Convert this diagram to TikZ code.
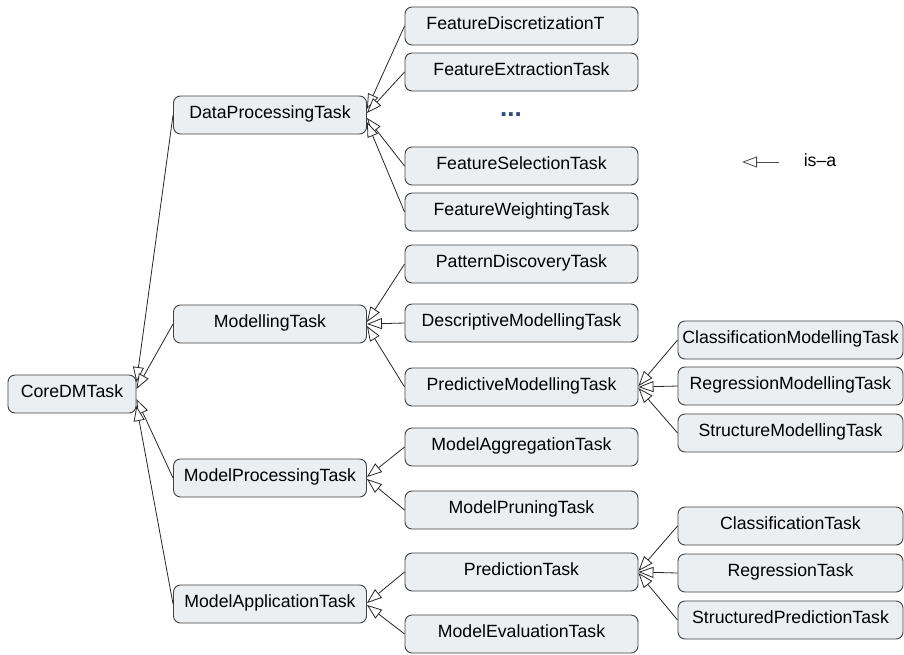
\documentclass[tikz,border=0pt]{standalone}
\usepackage{fontspec}
\setmainfont{Liberation Sans}
\usetikzlibrary{arrows.meta}
\definecolor{boxfill}{RGB}{236,239,242}
\definecolor{dotblue}{RGB}{46,74,122}
\tikzset{
  box/.style={draw=black!75, fill=boxfill, line width=0.9pt, rounded corners=7pt,
    minimum height=38pt, inner sep=0pt, text height=0.716em, text depth=0pt,
    font=\fontsize{17.7}{20}\selectfont},
  corebox/.style={box, minimum width=128pt},
  midbox/.style={box, minimum width=193pt},
  rightbox/.style={box, minimum width=233pt},
  thirdbox/.style={box, minimum width=225pt},
  isa/.style={draw=black!85, line width=0.8pt,
    -{Triangle[open, fill=white, length=15pt, width=11pt]}},
}
\begin{document}
\begin{tikzpicture}[x=1pt, y=-1pt]
\useasboundingbox (0,0) rectangle (904,654);
% core
\node[corebox] (core) at (72,394) {CoreDMTask};
% middle column
\node[midbox] (dp) at (270,115) {DataProcessingTask};
\node[midbox] (mt) at (270,324) {ModellingTask};
\node[midbox] (mp) at (270,478) {ModelProcessingTask};
\node[midbox] (ma) at (270,604) {ModelApplicationTask};
% right column
\node[rightbox] (fd) at (521.5,26) {\hspace*{-12pt}FeatureDiscretizationT};
\node[rightbox] (fe) at (521.5,72) {FeatureExtractionTask};
\node[font=\fontsize{26}{28}\selectfont\bfseries, text=dotblue, inner sep=0pt, anchor=base] (dots) at (511,116) {...};
\node[rightbox] (fs) at (521.5,166) {FeatureSelectionTask};
\node[rightbox] (fw) at (521.5,212) {FeatureWeightingTask};
\node[rightbox] (pd) at (521.5,264) {PatternDiscoveryTask};
\node[rightbox] (dm) at (521.5,323) {DescriptiveModellingTask};
\node[rightbox] (pm) at (521.5,387) {PredictiveModellingTask};
\node[rightbox] (mag) at (521.5,447) {ModelAggregationTask};
\node[rightbox] (mpr) at (521.5,510) {ModelPruningTask};
\node[rightbox] (pt) at (521.5,572) {PredictionTask};
\node[rightbox] (me) at (521.5,634) {ModelEvaluationTask};
% third column
\node[thirdbox] (cm) at (790.5,340) {ClassificationModellingTask};
\node[thirdbox] (rm) at (790.5,386) {RegressionModellingTask};
\node[thirdbox] (sm) at (790.5,433) {StructureModellingTask};
\node[thirdbox] (ct) at (790.5,526) {ClassificationTask};
\node[thirdbox] (rt) at (790.5,573) {RegressionTask};
\node[thirdbox] (sp) at (790.5,620) {StructuredPredictionTask};
% legend
\coordinate (lgA) at (779,162);
\coordinate (lgB) at (742,162);
\node[font=\fontsize{17.7}{20}\selectfont, text height=0.716em, text depth=0pt, inner sep=0pt] (lgT) at (820,163) {is–a};
% connectors to core
\draw[isa] (dp.west) -- ([yshift=12pt]core.east);
\draw[isa] (mt.west) -- ([yshift=5pt]core.east);
\draw[isa] (mp.west) -- ([yshift=-5pt]core.east);
\draw[isa] (ma.west) -- ([yshift=-12pt]core.east);
% data processing
\draw[isa] (fd.west) -- ([yshift=6pt]dp.east);
\draw[isa] (fe.west) -- ([yshift=2pt]dp.east);
\draw[isa] (fs.west) -- ([yshift=-3pt]dp.east);
\draw[isa] (fw.west) -- ([yshift=-7pt]dp.east);
% modelling
\draw[isa] (pd.west) -- ([yshift=2pt]mt.east);
\draw[isa] (dm.west) -- (mt.east);
\draw[isa] (pm.west) -- ([yshift=-2pt]mt.east);
% model processing
\draw[isa] (mag.west) -- ([yshift=1pt]mp.east);
\draw[isa] (mpr.west) -- ([yshift=-1pt]mp.east);
% model application
\draw[isa] (pt.west) -- ([yshift=1pt]ma.east);
\draw[isa] (me.west) -- ([yshift=-1pt]ma.east);
% predictive modelling
\draw[isa] (cm.west) -- ([yshift=1pt]pm.east);
\draw[isa] (rm.west) -- (pm.east);
\draw[isa] (sm.west) -- ([yshift=-1pt]pm.east);
% prediction
\draw[isa] (ct.west) -- ([yshift=1pt]pt.east);
\draw[isa] (rt.west) -- (pt.east);
\draw[isa] (sp.west) -- ([yshift=-1pt]pt.east);
% legend arrow
\draw[isa, draw=black!70] (lgA) -- (lgB);
\end{tikzpicture}
\end{document}
